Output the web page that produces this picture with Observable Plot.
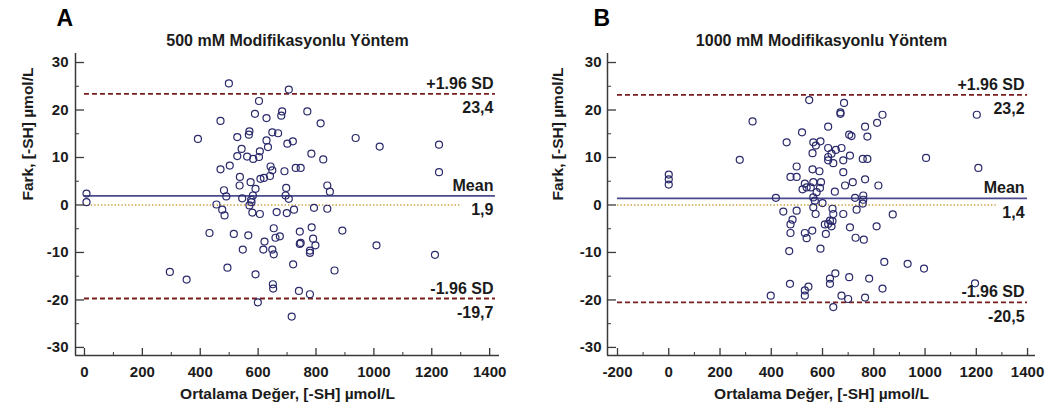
<!DOCTYPE html>
<html><head><meta charset="utf-8">
<script src="https://cdn.jsdelivr.net/npm/d3@7"></script>
<script src="https://cdn.jsdelivr.net/npm/@observablehq/plot@0.6"></script>
<style>
html,body{margin:0;padding:0;background:#fff;}
#wrap{position:relative;width:1056px;height:412px;overflow:hidden;}
#wrap svg{position:absolute;top:0;}
</style></head><body><div id="wrap"></div>
<script>
// Panel A: 500 mM — mean of methods (x) and difference (y)
const aMean = [7,7,499,706,603,589,629,683,680,770,816,470,392,528,570,568,649,669,629,634,701,720,543,528,562,583,603,606,784,470,502,643,649,691,730,747,537,536,574,608,620,641,591,697,482,490,545,582,576,695,706,456,476,484,570,577,580,606,664,699,724,793,839,937,1020,1225,1225,825,839,848,432,516,566,654,660,675,622,744,785,891,790,747,798,744,779,779,547,618,649,654,1009,1211,864,295,353,494,591,721,651,652,741,779,599,716];
const aDiff = [2.4,0.6,25.6,24.3,21.9,19.2,18.3,19.7,18.8,19.7,17.2,17.7,13.9,14.3,15.5,14.8,15.3,15.1,13.6,12.2,12.9,13.4,11.8,10.3,10.2,9.7,10.1,11.3,10.8,7.5,8.3,8.1,7.3,7.1,7.8,7.8,5.9,4.1,4.8,5.5,5.7,6.1,3.4,3.6,3.1,1.8,1.4,2.0,1.1,2.0,1.3,0.1,-1.0,-2.2,-0.1,0.6,-1.6,-1.9,-1.5,-1.7,-1.0,-0.6,-0.8,14.1,12.3,12.7,6.9,9.6,4.1,2.8,-5.9,-6.1,-6.4,-4.9,-6.9,-6.6,-7.7,-5.6,-4.7,-5.4,-7.1,-8.0,-8.5,-8.2,-9.6,-10.1,-9.4,-9.4,-9.4,-10.4,-8.5,-10.5,-13.8,-14.1,-15.7,-13.2,-14.6,-12.5,-16.7,-17.6,-18.1,-18.8,-20.5,-23.5];

// Panel B: 1000 mM
const bMean = [0,0,0,548,327,277,418,460,520,564,574,592,561,622,622,622,622,499,475,499,561,588,531,538,522,564,594,554,590,577,564,570,600,564,447,499,573,483,475,609,629,475,531,538,560,613,470,592,473,531,545,531,398,629,629,684,670,670,834,813,766,704,713,775,635,652,674,707,681,642,757,775,1004,1208,1202,681,688,718,766,818,648,727,759,759,757,639,642,681,733,874,622,639,635,707,811,729,761,841,932,996,650,704,782,834,674,700,766,642,1195];
const bDiff = [6.4,5.4,4.3,22.1,17.6,9.5,1.5,13.2,15.3,13.2,12.5,13.4,10.9,16.5,12.0,10.1,9.4,8.1,5.9,5.9,7.5,7.1,4.5,3.7,3.3,4.8,4.8,3.7,3.6,2.7,1.6,0.9,0.4,-0.5,-1.4,-1.2,-1.9,-3.1,-4.1,-4.1,-3.3,-5.9,-5.9,-7.0,-5.4,-6.1,-9.7,-9.2,-16.6,-18.0,-17.2,-19.1,-19.1,-15.5,-16.6,21.5,19.5,19.2,19.0,17.3,16.5,14.8,14.5,14.4,10.8,11.6,12.0,10.4,9.4,8.8,9.7,9.7,9.9,7.8,19.0,6.9,4.1,4.8,5.4,4.1,2.8,1.5,2.0,1.1,0.3,-0.8,-1.9,-1.9,-1.0,-2.0,-4.0,-3.4,-4.5,-4.7,-4.5,-6.9,-7.3,-12.0,-12.4,-13.4,-14.4,-15.2,-15.5,-17.6,-19.1,-19.8,-19.5,-21.5,-16.5];

// Limits of agreement
const limitsA = [23.4, 1.9, -19.7];   // +1.96 SD, mean, -1.96 SD
const limitsB = [23.2, 1.4, -20.5];
const limitNames = ["+1.96 SD", "Mean", "-1.96 SD"];

// Ticks
const yTicks = [-30,-20,-10,0,10,20,30];
const yMinorTicks = [-25,-15,-5,5,15,25];
const xTicksA = [0,200,400,600,800,1000,1200,1400];
const xMinorA = [100,300,500,700,900,1100,1300];
const xTicksB = [-200,0,200,400,600,800,1000,1200,1400];
const xMinorB = [-100,100,300,500,700,900,1100,1300];

const titles = ["500 mM Modifikasyonlu Yöntem", "1000 mM Modifikasyonlu Yöntem"];
const letters = ["A", "B"];
const xLabel = "Ortalama Değer, [-SH] µmol/L";
const yLabel = "Fark, [-SH] µmol/L";

const FONT = "'Liberation Sans', Arial, Helvetica, sans-serif";
const INK = "#1b1b1b";

function fmt(v){ return String(v).replace(".", ","); }

function panel(cfg){
  const W = 528, H = 412, mt = 53, mb = 57;
  const plotW = W - cfg.ml - cfg.mr, plotH = H - mt - mb;
  const data = cfg.means.map((m,i)=>({m, d: cfg.diffs[i]}));
  const [up, mean, lo] = cfg.limits;
  const txt = {fontSize: 16, fontWeight: "bold", fill: INK, textAnchor: "end"};
  const labelsAbove = [
    {x: cfg.lineSpan[1], y: up, t: limitNames[0]},
    {x: cfg.lineSpan[1], y: mean, t: limitNames[1]},
    {x: cfg.lineSpan[1], y: lo, t: limitNames[2]}
  ];
  const labelsBelow = cfg.limits.map(v=>({x: cfg.lineSpan[1], y: v, t: fmt(v)}));
  return Plot.plot({
    width: W, height: H,
    marginTop: mt, marginBottom: mb, marginLeft: cfg.ml, marginRight: cfg.mr,
    x: {domain: cfg.xDomain, axis: null},
    y: {domain: [-31.7, 31.9], axis: null},
    style: {fontFamily: FONT, background: "white", overflow: "visible"},
    marks: [
      Plot.ruleY([0], {x1: cfg.zeroSpan[0], x2: cfg.zeroSpan[1], stroke: "#caa23c", strokeWidth: 1.6, strokeDasharray: "1.4,2"}),
      Plot.ruleY([mean], {x1: cfg.lineSpan[0], x2: cfg.lineSpan[1], stroke: "#4a4a8e", strokeWidth: 1.8}),
      Plot.ruleY([up, lo], {x1: cfg.lineSpan[0], x2: cfg.lineSpan[1], stroke: "#7a1d1d", strokeWidth: 1.8, strokeDasharray: "5,3"}),
      Plot.dot(data, {x: "m", y: "d", r: 3.5, stroke: "#2a2a6c", strokeWidth: 1.2, fill: "none"}),
      // axis lines
      Plot.ruleX([cfg.xDomain[0]], {stroke: "#3a3a3a", strokeWidth: 1.5}),
      Plot.ruleY([-31.7], {stroke: "#3a3a3a", strokeWidth: 1.5}),
      // inward ticks
      Plot.tickY(yTicks, {y: d=>d, insetRight: plotW - 9, stroke: "#3a3a3a", strokeWidth: 1.3}),
      Plot.tickY(yMinorTicks, {y: d=>d, insetRight: plotW - 4, stroke: "#3a3a3a", strokeWidth: 1}),
      Plot.tickX(cfg.xTicks, {x: d=>d, insetTop: plotH - 7, stroke: "#3a3a3a", strokeWidth: 1.3}),
      Plot.tickX(cfg.xMinor, {x: d=>d, insetTop: plotH - 3, stroke: "#3a3a3a", strokeWidth: 1}),
      // tick labels
      Plot.axisY({ticks: yTicks, tickSize: 0, tickPadding: cfg.yPad, label: null, tickFormat: d=>String(d), fontSize: 15, fontWeight: "bold", fill: INK}),
      Plot.axisX({ticks: cfg.xTicks, tickSize: 0, tickPadding: 11, label: null, tickFormat: d=>String(d), fontSize: 15, fontWeight: "bold", fill: INK}),
      // axis titles
      Plot.text([xLabel], {text: d=>d, frameAnchor: "bottom", dy: 43, fontSize: 15.5, fontWeight: "bold", fill: INK}),
      Plot.text([yLabel], {text: d=>d, frameAnchor: "left", dx: cfg.yLabelDx, dy: -4, rotate: -90, fontSize: 15.5, fontWeight: "bold", fill: INK}),
      // titles
      Plot.text([cfg.title], {text: d=>d, frameAnchor: "top", dy: -8, lineAnchor: "bottom", fontSize: 16, fontWeight: "bold", fill: INK}),
      Plot.text([cfg.letter], {text: d=>d, frameAnchor: "top-left", dx: cfg.letterDx, dy: -28, lineAnchor: "bottom", textAnchor: "start", fontSize: 23, fontWeight: "bold", fill: "#000"}),
      // limit labels
      Plot.text(labelsAbove, {x: "x", y: "y", text: "t", lineAnchor: "bottom", dy: -5, dx: cfg.labelDx, ...txt}),
      Plot.text(labelsBelow, {x: "x", y: "y", text: "t", lineAnchor: "top", dy: 8, dx: cfg.labelDx, ...txt})
    ]
  });
}

const wrap = document.getElementById("wrap");
const svgA = panel({
  means: aMean, diffs: aDiff, limits: limitsA, title: titles[0], letter: letters[0],
  ml: 75, mr: 29, xDomain: [-31, 1434], xTicks: xTicksA, xMinor: xMinorA,
  lineSpan: [0, 1420], zeroSpan: [0, 1300], yPad: 7, yLabelDx: -47, letterDx: -19, labelDx: -2
});
const svgB = panel({
  means: bMean, diffs: bDiff, limits: limitsB, title: titles[1], letter: letters[1],
  ml: 79, mr: 21, xDomain: [-239, 1431], xTicks: xTicksB, xMinor: xMinorB,
  lineSpan: [-200, 1400], zeroSpan: [-200, 1278], yPad: 6, yLabelDx: -49, letterDx: -14, labelDx: -3
});
svgA.style.left = "0px";
svgB.style.left = "528px";
wrap.appendChild(svgA);
wrap.appendChild(svgB);
</script>
</body></html>
